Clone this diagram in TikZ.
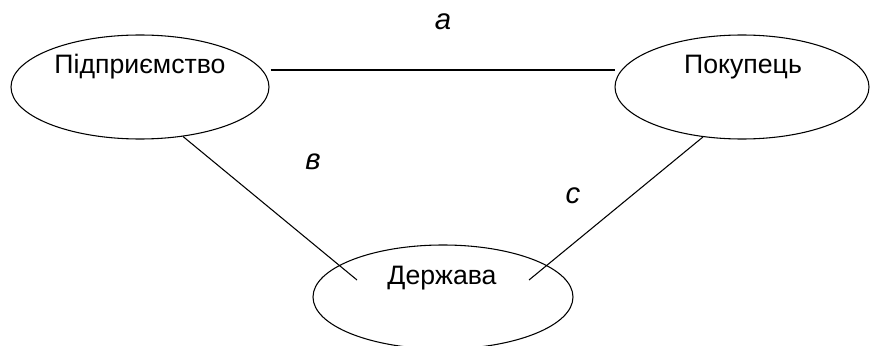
\documentclass[tikz,border=0pt]{standalone}
\usepackage{fontspec}
\setmainfont{Liberation Sans}
\usetikzlibrary{shapes.geometric}
\tikzset{
  party/.style={draw, ellipse, line width=0.8pt, inner sep=0pt,
    minimum height=78pt},
  partyname/.style={font=\fontsize{20}{24}\selectfont},
  tie/.style={line width=0.8pt},
  tielabel/.style={font=\fontsize{22}{26}\selectfont\itshape}
}
\begin{document}
\begin{tikzpicture}[x=0.75pt, y=-0.75pt]
    \useasboundingbox (0,0) rectangle (871,346);
    \node[party, minimum width=193.5pt] (firm) at (140, 87) {};
    \node[party, minimum width=190.5pt] (buyer) at (742, 87) {};
    \node[party, minimum width=195pt] (state) at (443, 297) {};
    \node[partyname] (firmtxt) at (140, 67) {Підприємство};
    \node[partyname] (buyertxt) at (743, 67) {Покупець};
    \node[partyname] (statetxt) at (442, 278) {Держава};
    \coordinate (stl) at (357, 280);
    \coordinate (str) at (529, 280);
    \draw[tie] ([shift={(1,-17)}]firm.east) -- ([shift={(1,-17)}]buyer.west);
    \draw[tie] (firm.-49) -- (stl);
    \draw[tie] (buyer.-128) -- (str);
    \node[tielabel] (lba) at (443, 22) {a};
    \node[tielabel] (lbb) at (313, 162) {в};
    \node[tielabel] (lbc) at (573, 196) {c};
  \end{tikzpicture}
\end{document}
